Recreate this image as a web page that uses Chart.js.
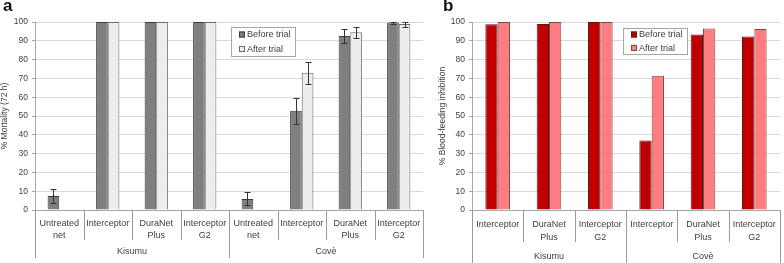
<!DOCTYPE html>
<html>
<head>
<meta charset="utf-8">
<script src="https://cdn.jsdelivr.net/npm/chart.js@4"></script>
<style>
  body { margin: 0; background: #fff; }
  #wrap { position: relative; width: 784px; height: 263px; font-family: "Liberation Sans", Arial, sans-serif; }
  .panel { position: absolute; top: 0; }
  .letter { position: absolute; top: -4px; font-weight: bold; font-size: 17px; color: #111; }
</style>
</head>
<body>
<div id="wrap">
  <canvas id="chartA" class="panel" style="left:0" width="432" height="263"></canvas>
  <canvas id="chartB" class="panel" style="left:432px" width="352" height="263"></canvas>
  <div class="letter" style="left:3px">a</div>
  <div class="letter" style="left:443px">b</div>
</div>
<script>
// data
const netsA = [['Untreated', 'net'], 'Interceptor', ['DuraNet', 'Plus'], ['Interceptor', 'G2'],
               ['Untreated', 'net'], 'Interceptor', ['DuraNet', 'Plus'], ['Interceptor', 'G2']];
const groupsA = ['Kisumu', 'Covè'];
const groupSizesA = [4, 4];
const mortalityBefore = [7.5, 100, 100, 100, 5.9, 52.8, 92.6, 99.7];
const mortalityAfter = [null, 100, 100, 100, null, 73, 94.6, 98.9];
const mortalityBeforeErr = [3.8, 0, 0, 0, 3.5, 7, 3.6, 0.5];
const mortalityAfterErr = [0, 0, 0, 0, 0, 5.8, 3, 1.3];

const netsB = ['Interceptor', ['DuraNet', 'Plus'], ['Interceptor', 'G2'],
               'Interceptor', ['DuraNet', 'Plus'], ['Interceptor', 'G2']];
const groupsB = ['Kisumu', 'Covè'];
const groupSizesB = [3, 3];
const inhibitionBefore = [98.8, 99, 100, 37, 93.4, 92.3];
const inhibitionAfter = [100, 100, 100, 71.4, 96.6, 96.3];

const yTicks = [0, 10, 20, 30, 40, 50, 60, 70, 80, 90, 100];

const FONT = '"Liberation Sans", Arial, sans-serif';
const TXT = '#404040';

// separators, group labels, error bars, boxed legend
const decor = {
  id: 'decor',
  afterDatasetsDraw(chart) {
    const ctx = chart.ctx, y = chart.scales.y;
    ctx.save();
    ctx.strokeStyle = '#333';
    ctx.lineWidth = 1;
    chart.data.datasets.forEach((ds, di) => {
      if (!ds.errors) return;
      chart.getDatasetMeta(di).data.forEach((bar, i) => {
        const v = ds.data[i], e = ds.errors[i];
        if (v == null || !e) return;
        const cx = Math.round(bar.x) + 0.5;
        const t = Math.round(y.getPixelForValue(v + e)) + 0.5;
        const b = Math.round(y.getPixelForValue(v - e)) + 0.5;
        ctx.beginPath();
        ctx.moveTo(cx, t); ctx.lineTo(cx, b);
        ctx.moveTo(cx - 3, t); ctx.lineTo(cx + 3, t);
        ctx.moveTo(cx - 3, b); ctx.lineTo(cx + 3, b);
        ctx.stroke();
      });
    });
    ctx.restore();
  },
  afterDraw(chart, args, opts) {
    const ctx = chart.ctx, x = chart.scales.x, y = chart.scales.y;
    const n = chart.data.labels.length;
    const w = (x.right - x.left) / n;
    const edges = [0];
    opts.groupSizes.forEach(s => edges.push(edges[edges.length - 1] + s));
    ctx.save();
    ctx.strokeStyle = '#9a9a9a';
    ctx.lineWidth = 1;
    for (let i = 0; i <= n; i++) {
      const px = Math.round(x.left + i * w) + 0.5;
      const len = edges.includes(i) ? opts.groupLen : opts.innerLen;
      ctx.beginPath();
      ctx.moveTo(px, y.bottom); ctx.lineTo(px, y.bottom + len);
      ctx.stroke();
    }
    ctx.fillStyle = TXT;
    ctx.font = '9px ' + FONT;
    ctx.textAlign = 'center';
    ctx.textBaseline = 'middle';
    opts.groups.forEach((g, gi) => {
      const cx = x.left + (edges[gi] + edges[gi + 1]) / 2 * w;
      ctx.fillText(g, cx, y.bottom + opts.groupY);
    });
    // legend
    const b = opts.legendBox;
    ctx.fillStyle = '#fff';
    ctx.fillRect(b.x, b.y, b.w, b.h);
    ctx.strokeStyle = '#a6a6a6';
    ctx.strokeRect(b.x + 0.5, b.y + 0.5, b.w, b.h);
    ctx.textAlign = 'left';
    chart.data.datasets.forEach((ds, di) => {
      const cy = b.y + b.first + di * b.step;
      ctx.fillStyle = ds.backgroundColor;
      ctx.fillRect(b.x + 8, cy - 3, 6, 6);
      ctx.strokeStyle = ds.borderColor;
      ctx.strokeRect(b.x + 8.5, cy - 2.5, 5, 5);
      ctx.fillStyle = TXT;
      ctx.fillText(ds.label, b.x + 16, cy + 0.5);
    });
    ctx.restore();
  }
};

function makeChart(id, labels, datasets, yTitle, cfg) {
  const ctx = document.getElementById(id).getContext('2d');
  return new Chart(ctx, {
    type: 'bar',
    data: { labels, datasets },
    options: {
      responsive: false,
      animation: false,
      devicePixelRatio: 1,
      layout: { padding: { top: 22, left: 0, right: cfg.padRight, bottom: 0 } },
      datasets: { bar: { categoryPercentage: 0.48, barPercentage: 1, borderWidth: 1 } },
      plugins: {
        legend: { display: false },
        tooltip: { enabled: false },
        decor: cfg.decor
      },
      scales: {
        x: {
          afterFit(s) { s.height = 53; },
          grid: { display: false, drawTicks: false },
          border: { display: true, color: '#a6a6a6' },
          ticks: { autoSkip: false, maxRotation: 0, padding: cfg.tickPad, color: TXT,
                   font: { family: FONT, size: 9, lineHeight: cfg.lineHeight } }
        },
        y: {
          min: 0, max: 100,
          afterFit(s) { s.width = cfg.yWidth; },
          afterBuildTicks(s) { s.ticks = yTicks.map(v => ({ value: v })); },
          grid: { color: '#d9d9d9', tickLength: 3, tickColor: '#a6a6a6' },
          border: { display: true, color: '#a6a6a6' },
          ticks: { padding: 4, color: TXT, font: { family: FONT, size: 8.5 } },
          title: { display: true, text: yTitle, padding: { top: cfg.titlePad, bottom: 0 }, color: TXT,
                   font: { family: FONT, size: 8.5 } }
        }
      }
    },
    plugins: [decor]
  });
}

makeChart('chartA', netsA, [
  { label: 'Before trial', data: mortalityBefore, errors: mortalityBeforeErr, backgroundColor: '#7f7f7f', borderColor: '#3a3a3a' },
  { label: 'After trial', data: mortalityAfter, errors: mortalityAfterErr, backgroundColor: '#ededed', borderColor: '#6a6a6a' }
], '% Mortality (72 h)', {
  yWidth: 35, padRight: 9, tickPad: 8, lineHeight: '12px', titlePad: 0,
  decor: { groups: groupsA, groupSizes: groupSizesA, innerLen: 30, groupLen: 48, groupY: 42,
           legendBox: { x: 231, y: 27, w: 64, h: 29, first: 7.5, step: 14.5 } }
});

makeChart('chartB', netsB, [
  { label: 'Before trial', data: inhibitionBefore, backgroundColor: '#c00000', borderColor: '#5a1a1a' },
  { label: 'After trial', data: inhibitionAfter, backgroundColor: '#ff7c80', borderColor: '#7a4a4a' }
], '% Blood-feeding inhibition', {
  yWidth: 40, padRight: 2, tickPad: 8, lineHeight: '12.7px', titlePad: 6,
  decor: { groups: groupsB, groupSizes: groupSizesB, innerLen: 32, groupLen: 53, groupY: 46.5,
           legendBox: { x: 191, y: 28, w: 64, h: 26, first: 6.5, step: 13.4 } }
});
</script>
</body>
</html>
